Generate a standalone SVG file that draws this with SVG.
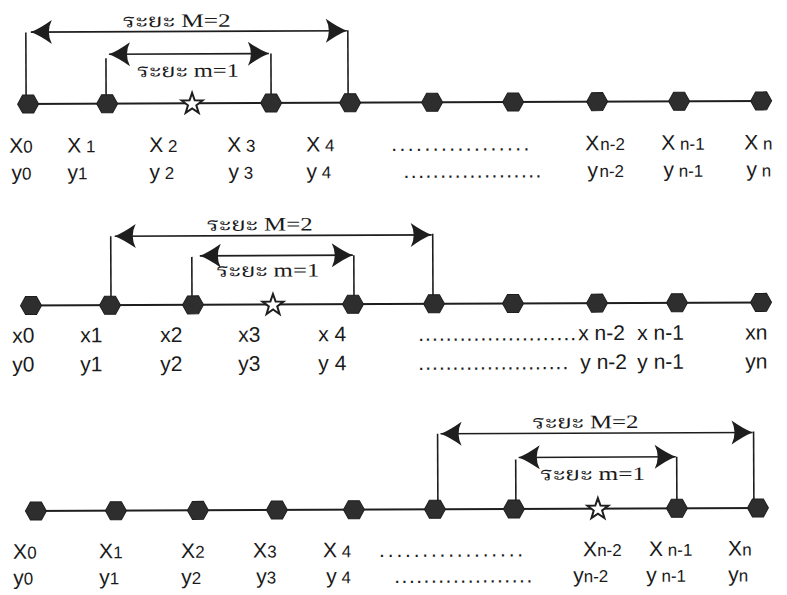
<svg xmlns="http://www.w3.org/2000/svg" xmlns:xlink="http://www.w3.org/1999/xlink" width="787" height="595" viewBox="0 0 787 595">
  <defs>
    <style>
      .ax { stroke: #1e1e1e; stroke-width: 2; fill: none; }
      .dim { stroke: #1e1e1e; stroke-width: 1.6; fill: none; }
      .dimA { stroke: #1e1e1e; stroke-width: 1.6; fill: none; marker-start: url(#dart); marker-end: url(#dart); }
      .hx { fill: #2e2e2e; stroke: #1e1e1e; stroke-width: 1; }
      .st { fill: #ffffff; stroke: #1e1e1e; stroke-width: 2; stroke-linejoin: miter; }
      .lbl { font-family: "Liberation Sans Narrow", "Liberation Sans", Arial, sans-serif; fill: #1a1a1a; font-size: 21px; }
      .sm { font-size: 17px; }
      .th { font-family: "Liberation Serif", "Noto Serif Thai", "Noto Sans Thai", serif; font-size: 19px; fill: #1a1a1a; text-anchor: middle; }
    </style>
    <polygon id="hex" class="hx" points="-10.5,0 -5.5,-9 5.5,-9 10.5,0 5.5,9 -5.5,9"/>
    <polygon id="star" class="st" points="0,-11 2.6,-3.6 10.5,-3.4 4.2,1.4 6.5,9 0,4.5 -6.5,9 -4.2,1.4 -10.5,-3.4 -2.6,-3.6"/>
    <marker id="dart" markerUnits="userSpaceOnUse" viewBox="-23 -13 25 26" markerWidth="25" markerHeight="26" refX="0" refY="0" orient="auto-start-reverse">
      <path d="M0,0 Q-9,-3.5 -21,-12 Q-15,0 -21,12 Q-9,3.5 0,0 Z" fill="#1e1e1e"/>
    </marker>
  </defs>

  <rect width="787" height="595" fill="#ffffff"/>

  <g transform="rotate(-0.25 393 300)">
    <!-- connectors: axis lines and distance brackets -->
    <g id="connectors">
      <!-- row 1 -->
      <line class="ax" x1="22" y1="102.5" x2="768" y2="102.5"/>
      <polyline class="dim" points="27,31 27,102"/>
      <polyline class="dim" points="349,30 349,102"/>
      <line class="dimA" x1="32" y1="30.5" x2="348" y2="30.5"/>
      <polyline class="dim" points="107,57 107,102"/>
      <polyline class="dim" points="272,53 272,102"/>
      <line class="dimA" x1="110" y1="53" x2="270" y2="53"/>

      <!-- row 2 -->
      <line class="ax" x1="22" y1="304" x2="768" y2="304"/>
      <polyline class="dim" points="111,235 111,304"/>
      <polyline class="dim" points="433,234 433,304"/>
      <line class="dimA" x1="115" y1="235" x2="432" y2="235"/>
      <polyline class="dim" points="192,256 192,304"/>
      <polyline class="dim" points="354,255 354,304"/>
      <line class="dimA" x1="200" y1="255" x2="353" y2="255"/>

      <!-- row 3 -->
      <line class="ax" x1="26" y1="509.5" x2="764" y2="509.5"/>
      <polyline class="dim" points="437,434 437,509"/>
      <polyline class="dim" points="753,433 753,509"/>
      <line class="dimA" x1="440" y1="434" x2="752" y2="434"/>
      <polyline class="dim" points="515,460 515,509"/>
      <polyline class="dim" points="676,458 676,509"/>
      <line class="dimA" x1="518" y1="458" x2="675" y2="458"/>
    </g>

    <!-- row 1 points -->
    <g id="r1-x0"><use xlink:href="#hex" x="29" y="102.5"/></g>
    <g id="r1-x1"><use xlink:href="#hex" x="108" y="102.5"/></g>
    <g id="r1-x2"><use xlink:href="#star" x="193" y="103"/></g>
    <g id="r1-x3"><use xlink:href="#hex" x="272" y="102.5"/></g>
    <g id="r1-x4"><use xlink:href="#hex" x="351" y="102.5"/></g>
    <g id="r1-p5"><use xlink:href="#hex" x="433" y="102.5"/></g>
    <g id="r1-p6"><use xlink:href="#hex" x="514" y="102.5"/></g>
    <g id="r1-xn2"><use xlink:href="#hex" x="598" y="102.5"/></g>
    <g id="r1-xn1"><use xlink:href="#hex" x="680" y="102.5"/></g>
    <g id="r1-xn"><use xlink:href="#hex" x="762" y="102.5"/></g>

    <!-- row 2 points -->
    <g id="r2-x0"><use xlink:href="#hex" x="31" y="304"/></g>
    <g id="r2-x1"><use xlink:href="#hex" x="110" y="304"/></g>
    <g id="r2-x2"><use xlink:href="#hex" x="193" y="304"/></g>
    <g id="r2-x3"><use xlink:href="#star" x="273" y="304.5"/></g>
    <g id="r2-x4"><use xlink:href="#hex" x="353" y="304"/></g>
    <g id="r2-p5"><use xlink:href="#hex" x="434" y="304"/></g>
    <g id="r2-p6"><use xlink:href="#hex" x="513" y="304"/></g>
    <g id="r2-xn2"><use xlink:href="#hex" x="597" y="304"/></g>
    <g id="r2-xn1"><use xlink:href="#hex" x="677" y="304"/></g>
    <g id="r2-xn"><use xlink:href="#hex" x="761" y="304"/></g>

    <!-- row 3 points -->
    <g id="r3-x0"><use xlink:href="#hex" x="35" y="509.5"/></g>
    <g id="r3-x1"><use xlink:href="#hex" x="115" y="509.5"/></g>
    <g id="r3-x2"><use xlink:href="#hex" x="197" y="509.5"/></g>
    <g id="r3-x3"><use xlink:href="#hex" x="276" y="509.5"/></g>
    <g id="r3-x4"><use xlink:href="#hex" x="353" y="509.5"/></g>
    <g id="r3-p5"><use xlink:href="#hex" x="434" y="509.5"/></g>
    <g id="r3-p6"><use xlink:href="#hex" x="513" y="509.5"/></g>
    <g id="r3-xn2"><use xlink:href="#star" x="597" y="510"/></g>
    <g id="r3-xn1"><use xlink:href="#hex" x="676" y="509.5"/></g>
    <g id="r3-xn"><use xlink:href="#hex" x="757" y="509.5"/></g>

    <!-- bracket captions -->
    <g id="captions">
      <text class="th" x="178" y="26" textLength="108" lengthAdjust="spacingAndGlyphs">ระยะ M=2</text>
      <text class="th" x="189" y="76" textLength="102" lengthAdjust="spacingAndGlyphs">ระยะ m=1</text>
      <text class="th" x="260" y="230" textLength="106" lengthAdjust="spacingAndGlyphs">ระยะ M=2</text>
      <text class="th" x="268" y="276" textLength="103" lengthAdjust="spacingAndGlyphs">ระยะ m=1</text>
      <text class="th" x="585" y="429" textLength="106" lengthAdjust="spacingAndGlyphs">ระยะ M=2</text>
      <text class="th" x="592" y="481" textLength="105" lengthAdjust="spacingAndGlyphs">ระยะ m=1</text>
    </g>

    <!-- row 1 labels -->
    <g id="r1-labels" class="lbl">
      <text x="10" y="151">X<tspan class="sm">0</tspan></text>
      <text x="68" y="151">X<tspan class="sm"> 1</tspan></text>
      <text x="150" y="151">X<tspan class="sm"> 2</tspan></text>
      <text x="228" y="151">X<tspan class="sm"> 3</tspan></text>
      <text x="307" y="151">X<tspan class="sm"> 4</tspan></text>
      <text x="392" y="151" textLength="138" lengthAdjust="spacing">.................</text>
      <text x="586" y="151">X</text>
      <text x="601" y="151" class="sm">n-2</text>
      <text x="662" y="151">X<tspan class="sm"> n-1</tspan></text>
      <text x="745" y="151">X<tspan class="sm"> n</tspan></text>

      <text x="12" y="178">y<tspan class="sm">0</tspan></text>
      <text x="68" y="178">y<tspan class="sm">1</tspan></text>
      <text x="150" y="178">y<tspan class="sm"> 2</tspan></text>
      <text x="229" y="178">y<tspan class="sm"> 3</tspan></text>
      <text x="307" y="178">y<tspan class="sm"> 4</tspan></text>
      <text x="404" y="178" textLength="138" lengthAdjust="spacing">...................</text>
      <text x="588" y="178">y</text>
      <text x="600" y="178" class="sm">n-2</text>
      <text x="664" y="178">y<tspan class="sm"> n-1</tspan></text>
      <text x="747" y="178">y<tspan class="sm"> n</tspan></text>
    </g>

    <!-- row 2 labels -->
    <g id="r2-labels" class="lbl">
      <text x="12" y="341">x0</text>
      <text x="80" y="341">x1</text>
      <text x="160" y="341">x2</text>
      <text x="238" y="341">x3</text>
      <text x="318" y="341">x 4</text>
      <text x="418" y="341" textLength="158" lengthAdjust="spacing">.......................</text>
      <text x="578" y="341">x n-2</text>
      <text x="637" y="341">x n-1</text>
      <text x="745" y="341">xn</text>

      <text x="12" y="370">y0</text>
      <text x="80" y="370">y1</text>
      <text x="160" y="370">y2</text>
      <text x="238" y="370">y3</text>
      <text x="318" y="370">y 4</text>
      <text x="418" y="370" textLength="150" lengthAdjust="spacing">......................</text>
      <text x="580" y="370">y n-2</text>
      <text x="637" y="370">y n-1</text>
      <text x="745" y="370">yn</text>
    </g>

    <!-- row 3 labels -->
    <g id="r3-labels" class="lbl">
      <text x="12" y="557">X<tspan class="sm">0</tspan></text>
      <text x="98" y="557">X<tspan class="sm">1</tspan></text>
      <text x="180" y="557">X<tspan class="sm">2</tspan></text>
      <text x="252" y="557">X<tspan class="sm">3</tspan></text>
      <text x="322" y="557">X<tspan class="sm"> 4</tspan></text>
      <text x="378" y="557" textLength="144" lengthAdjust="spacing">.................</text>
      <text x="582" y="557">X<tspan class="sm">n-2</tspan></text>
      <text x="648" y="557">X<tspan class="sm"> n-1</tspan></text>
      <text x="727" y="557">X<tspan class="sm">n</tspan></text>

      <text x="12" y="583">y<tspan class="sm">0</tspan></text>
      <text x="98" y="583">y<tspan class="sm">1</tspan></text>
      <text x="180" y="583">y<tspan class="sm">2</tspan></text>
      <text x="255" y="583">y<tspan class="sm">3</tspan></text>
      <text x="325" y="583">y<tspan class="sm"> 4</tspan></text>
      <text x="393" y="583" textLength="138" lengthAdjust="spacing">...................</text>
      <text x="572" y="583">y<tspan class="sm">n-2</tspan></text>
      <text x="645" y="583">y<tspan class="sm"> n-1</tspan></text>
      <text x="727" y="583">y<tspan class="sm">n</tspan></text>
    </g>
  </g>
</svg>
